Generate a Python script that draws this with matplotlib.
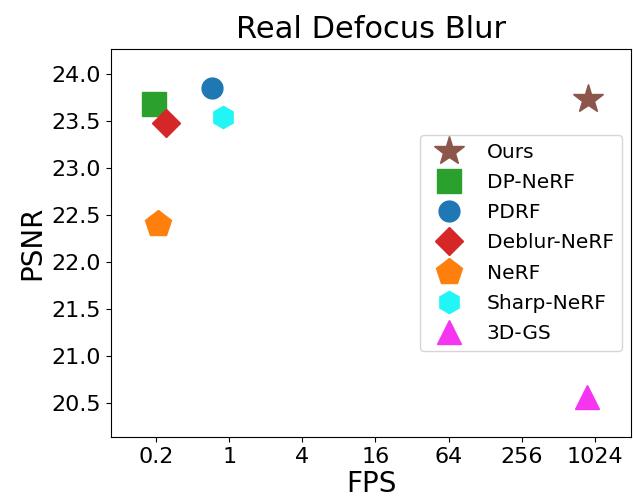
import numpy as np
import matplotlib
matplotlib.use("Agg")
import matplotlib.pyplot as plt

# data
methods = ["Ours", "DP-NeRF", "PDRF", "Deblur-NeRF", "NeRF", "Sharp-NeRF", "3D-GS"]
fps = [890, 0.24, 0.72, 0.30, 0.26, 0.89, 880]
psnr = [23.74, 23.68, 23.85, 23.48, 22.40, 23.55, 20.56]
markers = ["*", "s", "o", "D", "p", "h", "^"]
colors = ["#8c564b", "#2ca02c", "#1f77b4", "#d62728", "#ff7f0e", "#22f5f5", "#f535f0"]
sizes = [22, 17, 15, 14, 20, 16, 17]

tickVals = [0.25, 1, 4, 16, 64, 256, 1024]
tickLabels = ["0.2", "1", "4", "16", "64", "256", "1024"]
yTicks = [20.5, 21.0, 21.5, 22.0, 22.5, 23.0, 23.5, 24.0]

fig = plt.figure(figsize=(6.33, 5.0), dpi=100)
ax = fig.add_axes([0.1754, 0.126, 0.8214, 0.776])

for i in range(len(methods)):
    ax.plot(fps[i], psnr[i], linestyle="none", marker=markers[i], color=colors[i],
            markersize=sizes[i], label=methods[i])

ax.set_xscale("log", base=2)
ax.set_xlim(0.1066, 2026)
ax.set_ylim(20.135, 24.27)
ax.set_xticks(tickVals)
ax.set_xticklabels(tickLabels)
ax.minorticks_off()
ax.set_yticks(yTicks)
ax.set_yticklabels([f"{v:.1f}" for v in yTicks])
ax.tick_params(labelsize=16)

ax.set_xlabel("FPS", fontsize=20, labelpad=2)
ax.set_ylabel("PSNR", fontsize=20)
ax.set_title("Real Defocus Blur", fontsize=22, pad=8)

ax.legend(loc="center right", fontsize=14.5, labelspacing=0.56, handletextpad=0.9,
          borderaxespad=0.45)

fig.savefig("out.png", dpi=100)
